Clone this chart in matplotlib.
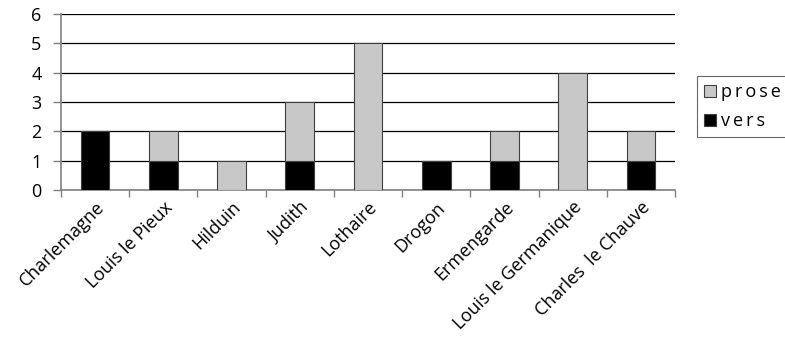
import matplotlib.pyplot as plt
import numpy as np

names = ['Charlemagne', 'Louis le Pieux', 'Hilduin', 'Judith', 'Lothaire',
         'Drogon', 'Ermengarde', 'Louis le Germanique', 'Charles  le Chauve']
vers = [2, 1, 0, 1, 0, 1, 1, 0, 1]
prose = [0, 1, 1, 2, 5, 0, 1, 4, 1]

plt.rcParams['font.family'] = ['Open Sans', 'DejaVu Sans']

fig = plt.figure(figsize=(7.85, 3.44), dpi=100)
ax = fig.add_axes([0.0777, 0.4477, 0.7823, 0.5113])

x = np.arange(len(names))
w = 0.42
ax.bar(x, vers, w, color='black', edgecolor='#404040', linewidth=0.8, label='vers', zorder=3)
ax.bar(x, prose, w, bottom=vers, color='#c8c8c8', edgecolor='#404040', linewidth=0.8,
       label='prose', zorder=3)

ax.set_xlim(-0.5, len(names) - 0.5)
ax.set_ylim(0, 6)
ax.set_yticks(range(7))
ax.yaxis.grid(True, color='black', linewidth=0.9, zorder=0)
ax.set_axisbelow(True)

# ticks between categories, labels centred on bars
ax.set_xticks(np.arange(-0.5, len(names)), minor=False)
ax.set_xticklabels([])
ax.set_xticks(x, minor=True)
ax.set_xticklabels(names, minor=True, rotation=45, ha='right', rotation_mode='anchor', fontsize=13)
ax.tick_params(axis='x', which='minor', length=0, pad=6)
ax.tick_params(axis='x', which='major', length=5, color='#808080', width=1)
ax.tick_params(axis='y', length=6, color='#808080', width=1, labelsize=13, pad=8)

for s in ['top', 'right']:
    ax.spines[s].set_visible(False)
for s in ['left', 'bottom']:
    ax.spines[s].set_color('#808080')
    ax.spines[s].set_linewidth(1.2)

h, l = ax.get_legend_handles_labels()
leg = fig.legend(h[::-1], l[::-1], loc='upper left', bbox_to_anchor=(0.876, 0.805),
                 fontsize=13, frameon=True, fancybox=False, edgecolor='#404040',
                 handlelength=0.65, handleheight=0.65, handletextpad=0.3,
                 labelspacing=0.6, borderpad=0.4)
leg.get_frame().set_linewidth(0.8)
for t in leg.get_texts():
    t.set_text('\u2009'.join(t.get_text()))

plt.savefig('out.png', dpi=100)
